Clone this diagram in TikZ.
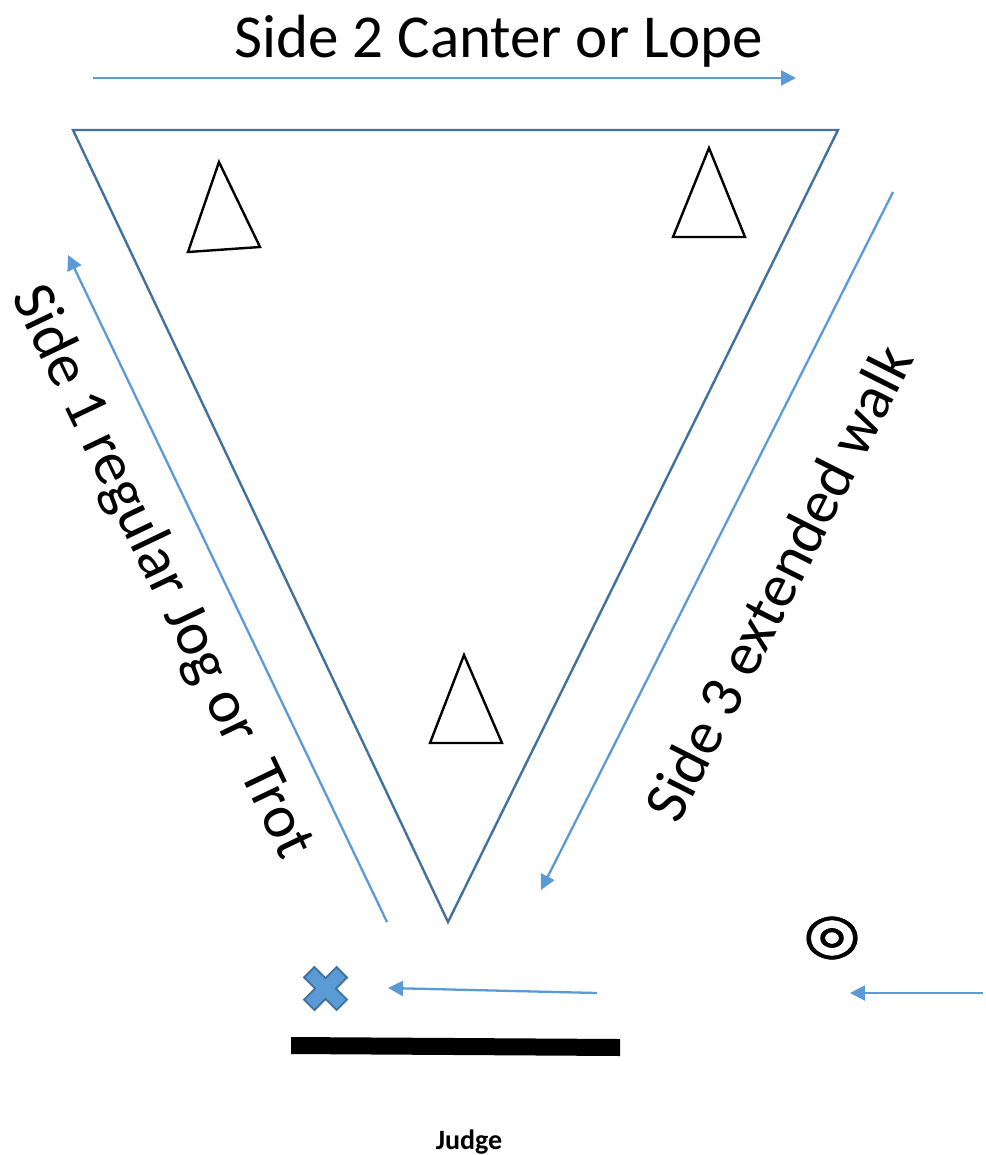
\documentclass[tikz,border=0pt]{standalone}
\usepackage{fontspec}
\setmainfont{Carlito}
\newfontfamily\symfont[FakeBold=1.1]{DejaVu Sans}
\usepackage{xcolor}
\usetikzlibrary{arrows.meta, positioning, calc}
\definecolor{pathblue}{HTML}{5B9BD5}
\definecolor{ringblue}{HTML}{41719C}
\tikzset{
  ring/.style    = {draw=ringblue, line width=2.4pt, line join=miter},
  cone/.style    = {draw=black, line width=2.4pt, line join=miter},
  route/.style   = {-{Triangle[length=15pt,width=15pt]}, draw=pathblue,
                    line width=2.3pt},
  sidelabel/.style = {font=\fontsize{61}{70}\selectfont, inner sep=0pt},
  xmark/.style   = {fill=pathblue, draw=ringblue, line width=1.8pt,
                    line join=miter},
  judgebar/.style= {fill=black},
}

\begin{document}
\begin{tikzpicture}[x=1pt, y=-1pt]
  \useasboundingbox (0,0) rectangle (985,1155);

  % arena
  \coordinate (tl) at (73,130);
  \coordinate (tr) at (838,130);
  \coordinate (bt) at (448,922);
  \draw[ring] (tl) -- (tr) -- (bt) -- cycle;

  % cones
  \draw[cone] (219,162) -- (260,247) -- (188,252) -- cycle;
  \draw[cone] (709,148) -- (745,237) -- (673,237) -- cycle;
  \draw[cone] (464,655) -- (502,743) -- (430,743) -- cycle;

  % route ends
  \coordinate (s1a) at (387,922);
  \coordinate (s1b) at (68,255);
  \coordinate (s2a) at (93,78);
  \coordinate (s2b) at (796,78);
  \coordinate (s3a) at (893,192);
  \coordinate (s3b) at (541,890);
  \coordinate (ina) at (983,993);
  \coordinate (inb) at (850,993);
  \coordinate (outa) at (597,993);
  \coordinate (outb) at (388,988);

  \draw[route] (s1a) -- (s1b);
  \draw[route] (s2a) -- (s2b);
  \draw[route] (s3a) -- (s3b);
  \draw[route] (ina) -- (inb);
  \draw[route] (outa) -- (outb);

  % labels
  \node[sidelabel, anchor=base] (lbl2) at (499,58) {Side 2 Canter or Lope};
  \node[sidelabel, rotate=-64.4] (lbl1) at (161,572) {Side 1 regular Jog or\ \ Trot};
  \node[sidelabel, rotate=63.2] (lbl3) at (778,583) {Side 3 extended walk};

  % start marker
  \node[inner sep=0pt, yscale=0.84, font=\symfont\fontsize{66}{66}\selectfont] (start) at (832,938) {◎};

  % finish mark
  \begin{scope}[shift={(325.5,988.5)}, rotate=45]
    \draw[xmark] (7.4,7.4) -- (23,7.4) -- (23,-7.4) -- (7.4,-7.4) -- (7.4,-23)
      -- (-7.4,-23) -- (-7.4,-7.4) -- (-23,-7.4) -- (-23,7.4) -- (-7.4,7.4)
      -- (-7.4,23) -- (7.4,23) -- cycle;
  \end{scope}

  % judge
  \fill[judgebar] (291,1037) -- (620,1039) -- (620,1056) -- (291,1054) -- cycle;
  \node[anchor=base, font=\bfseries\fontsize{28}{30}\selectfont] (judge) at (469,1149) {Judge};
\end{tikzpicture}
\end{document}
